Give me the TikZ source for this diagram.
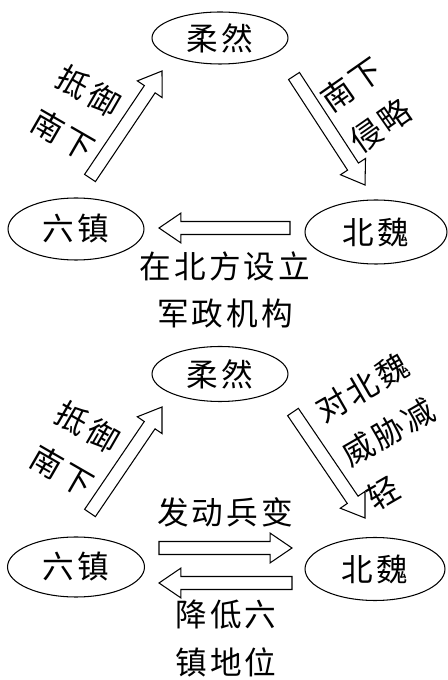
\documentclass[tikz,border=0pt]{standalone}
\usepackage{fontspec}
\newfontfamily\cjk[LetterSpace=10]{Noto Sans CJK SC}
\usetikzlibrary{shapes.geometric,calc}

\begin{document}
\begin{tikzpicture}
      [x=0.02cm,y=0.02cm,
       every node/.style={font=\cjk\fontsize{18}{27}\selectfont},
       slanted/.style={align=center,font=\cjk\fontsize{18}{29}\selectfont},
       state/.style={ellipse,draw,line width=0.6pt,inner sep=0pt},
       fat/.style={draw,fill=white,line width=0.6pt,line join=miter}]
      \useasboundingbox (0,0) rectangle (448,680);

      % upper triangle
      \node [state,minimum width=2.72cm,minimum height=1.04cm] (rr1) at (220,642) {柔然};
      \node [state,minimum width=2.72cm,minimum height=1.24cm] (lz1) at (76,451) {六镇};
      \node [state,minimum width=2.84cm,minimum height=1.28cm] (bw1) at (376,448) {北魏};

      \coordinate (a1) at (90,502);  \coordinate (b1) at (162,609);
      \coordinate (c1) at (294,604); \coordinate (d1) at (365,495);
      \coordinate (e1) at (290,452); \coordinate (f1) at (159,452);

      \node [slanted,rotate=-30] (l1) at (76,567) {抵御\\南下};
      \node [slanted,rotate=35] (r1) at (366,575) {南下\\侵略};
      \node [align=center] (m1) at (225,390) {在北方设立\\军政机构};

      % lower triangle
      \node [state,minimum width=2.72cm,minimum height=1.10cm] (rr2) at (220,306) {柔然};
      \node [state,minimum width=2.74cm,minimum height=1.20cm] (lz2) at (76,113) {六镇};
      \node [state,minimum width=2.80cm,minimum height=1.26cm] (bw2) at (375,111) {北魏};

      \coordinate (a2) at (90,167);  \coordinate (b2) at (162,273);
      \coordinate (c2) at (293,268); \coordinate (d2) at (365,162);
      \coordinate (e2) at (159,132); \coordinate (f2) at (292,132);
      \coordinate (g2) at (292,97);  \coordinate (h2) at (159,97);

      \node [slanted,rotate=-30] (l2) at (75,231) {抵御\\南下};
      \node [slanted,rotate=30,align=left] (r2) at (388,248) {对北魏\\威胁减\\轻};
      \node (m2) at (225,168) {发动兵变};
      \node [align=center] (m3) at (226,41.5) {降低六\\镇地位};

      \foreach \from/\to in {a1/b1, c1/d1, e1/f1, a2/b2, c2/d2, e2/f2, g2/h2}
      \draw [fat] let \p1=($(\to)-(\from)$), \n1={atan2(\y1,\x1)} in
        ($(\from)+(\n1+90:3.7pt)$)
        -- ($(\to)+(\n1+180:12.5pt)+(\n1+90:3.7pt)$)
        -- ($(\to)+(\n1+180:12.5pt)+(\n1+90:8.5pt)$)
        -- (\to)
        -- ($(\to)+(\n1+180:12.5pt)+(\n1-90:8.5pt)$)
        -- ($(\to)+(\n1+180:12.5pt)+(\n1-90:3.7pt)$)
        -- ($(\from)+(\n1-90:3.7pt)$) -- cycle;
    \end{tikzpicture}
\end{document}
